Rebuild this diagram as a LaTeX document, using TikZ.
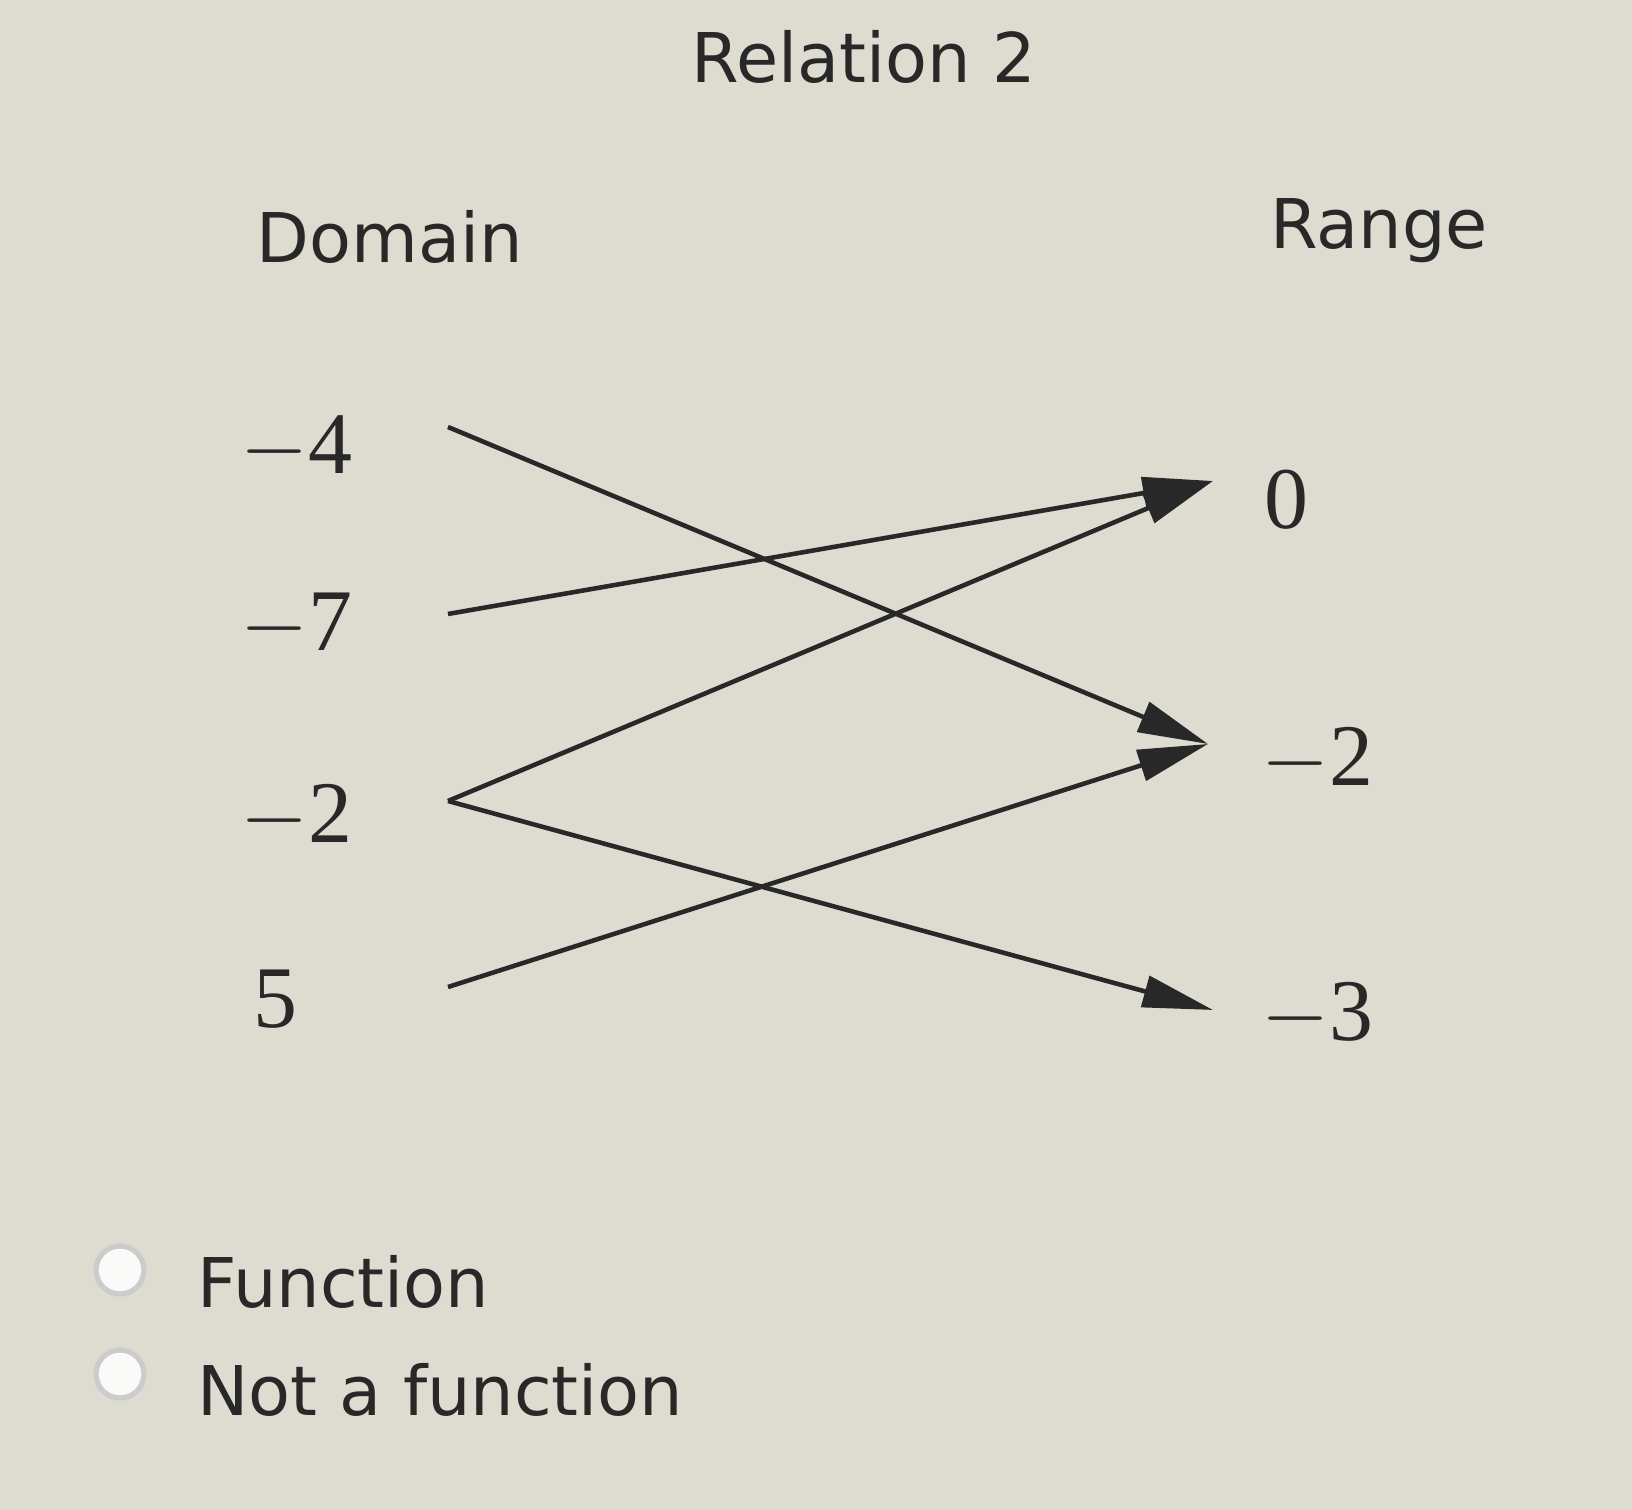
\documentclass[tikz,border=0pt]{standalone}
\usepackage{fontspec}
\setmainfont{DejaVu Sans}
\newfontfamily\numfont{Liberation Serif}
\usetikzlibrary{arrows.meta}
\definecolor{bg}{RGB}{222,220,208}
\definecolor{ink}{RGB}{40,40,40}
\begin{document}
\begin{tikzpicture}[x=0.01cm,y=-0.01cm,
  lbl/.style={font=\fontsize{19.5}{23}\selectfont,text=ink},
  num/.style={font=\numfont\fontsize{25}{30}\selectfont,text=ink},
  conn/.style={draw=ink,line width=1.3pt,-{Triangle[length=20pt,width=9pt]}},
  radio/.style={circle,draw=gray!40,line width=1.5pt,fill=white!85!bg,minimum size=0.48cm,inner sep=0pt}]
\fill[bg] (0,0) rectangle (1632,1510);
\useasboundingbox (0,0) rectangle (1632,1510);
\node[lbl] (title) at (864,57) {Relation 2};
\node[lbl] (dom) at (390,237) {Domain};
\node[lbl] (ran) at (1379,231) {Range};
\node[num,anchor=east] (d1) at (365,448) {$-$4};
\node[num,anchor=east] (d2) at (365,625) {$-$7};
\node[num,anchor=east] (d3) at (365,817) {$-$2};
\node[num,anchor=east] (d4) at (310,999) {5};
\node[num] (r1) at (1286,500) {0};
\node[num] (r2) at (1317,760) {$-$2};
\node[num] (r3) at (1317,1015) {$-$3};
\coordinate (s1) at (448,427);
\coordinate (s2) at (448,614);
\coordinate (s3) at (448,801);
\coordinate (s4) at (448,987);
\coordinate (t1) at (1213,481);
\coordinate (t2) at (1208,744);
\coordinate (t3) at (1213,1010);
\draw[conn] (s1) -- (t2);
\draw[conn] (s2) -- (t1);
\draw[conn] (s3) -- (t1);
\draw[conn] (s3) -- (t3);
\draw[conn] (s4) -- (t2);
\node[radio] (c1) at (120,1270) {};
\node[radio] (c2) at (120,1374) {};
\node[lbl,anchor=west] (f1) at (185,1282) {Function};
\node[lbl,anchor=west] (f2) at (185,1390) {Not a function};
\end{tikzpicture}
\end{document}
